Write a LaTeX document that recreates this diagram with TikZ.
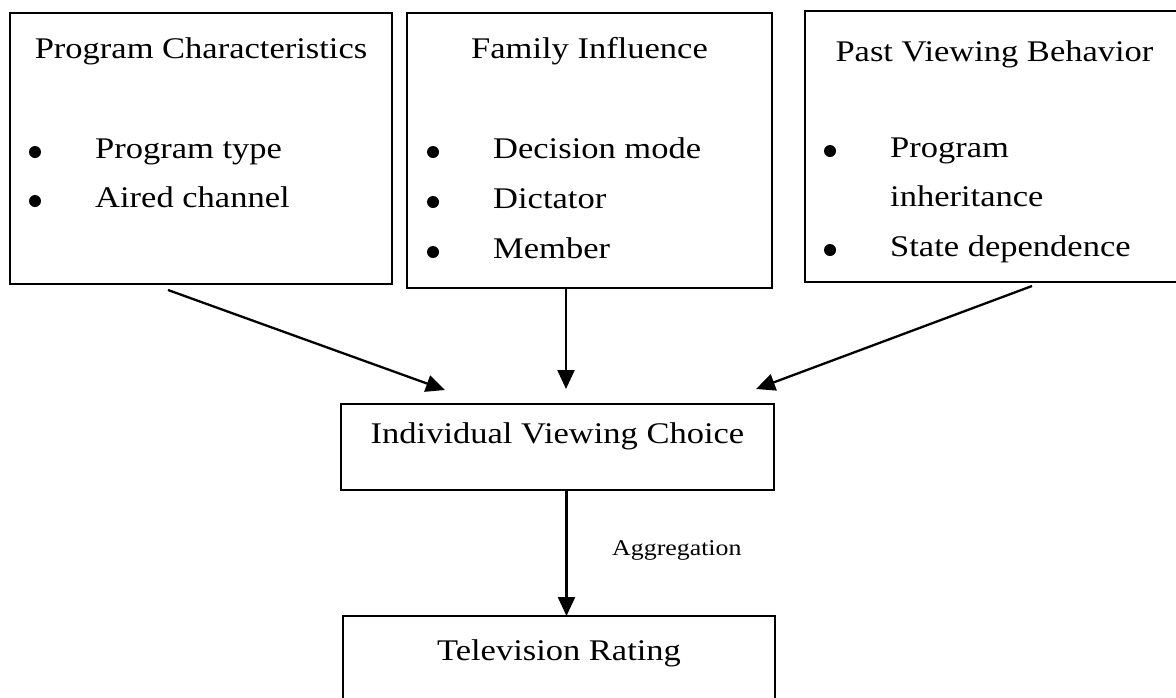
\documentclass[tikz,border=0pt]{standalone}
\usepackage{fontspec}
\setmainfont{Liberation Serif}[FakeStretch=1.15]
\usetikzlibrary{arrows.meta,calc}

\begin{document}
\begin{tikzpicture}[x=1pt,y=-1pt,
  box/.style={draw,line width=2pt,outer sep=0pt,inner sep=0pt},
  heading/.style={font=\fontsize{30}{36}\selectfont,anchor=base,inner sep=0pt},
  item/.style={font=\fontsize{30}{36}\selectfont,anchor=base west,inner sep=0pt},
  dot/.style={circle,fill,inner sep=0pt,minimum size=12pt},
  arr/.style={line width=2.3pt,-{Triangle[length=19pt,width=17pt]}},
  note/.style={font=\fontsize{22.5}{27}\selectfont,anchor=base west,inner sep=0pt}]
\useasboundingbox (0,0) rectangle (1176,697);
\clip (0,0) rectangle (1176,697);
\fill[white] (0,0) rectangle (1176,697);

% three factor boxes (the third runs past the right edge)
\node[box,minimum width=382pt,minimum height=271pt] (b1) at (201,148.5) {};
\node[box,minimum width=365pt,minimum height=275pt] (b2) at (589.5,150.5) {};
\node[box,minimum width=400pt,minimum height=271pt] (b3) at (1005,146.5) {};

% outcome boxes
\node[box,minimum width=433pt,minimum height=86pt] (ivc) at (557.5,447) {};
\node[box,minimum width=432pt,minimum height=104pt] (tv) at (559,668) {};

% box headings
\node[heading] (t1) at (201,58) {Program Characteristics};
\node[heading] (t2) at (589.5,58) {Family Influence};
\node[heading] (t3) at (994.5,61) {Past Viewing Behavior};
\node[heading] (t4) at (557.5,443) {Individual Viewing Choice};
\node[heading] (t5) at (559,660) {Television Rating};

% Program Characteristics items
\node[dot] (d11) at (35,152) {};
\node[dot] (d12) at (35,201) {};
\node[item] (i11) at (95,158) {Program type};
\node[item] (i12) at (95,207) {Aired channel};

% Family Influence items
\node[dot] (d21) at (433,152) {};
\node[dot] (d22) at (433,202) {};
\node[dot] (d23) at (433,252) {};
\node[item] (i21) at (493,158) {Decision mode};
\node[item] (i22) at (493,208) {Dictator};
\node[item] (i23) at (493,258) {Member};

% Past Viewing Behavior items
\node[dot] (d31) at (830,151) {};
\node[dot] (d32) at (830,250) {};
\node[item] (i31) at (890,157) {Program};
\node[item] (i32) at (890,206) {inheritance};
\node[item] (i33) at (890,256) {State dependence};

% connectors
\draw[arr] ([xshift=-33pt,yshift=-6pt]b1.south) -- ([xshift=-112.5pt,yshift=14pt]ivc.north);
\draw[arr] ([xshift=-23.5pt,yshift=-1pt]b2.south) -- ([xshift=8.5pt,yshift=15pt]ivc.north);
\draw[arr] ([xshift=27pt,yshift=-4pt]b3.south) -- ([xshift=198.5pt,yshift=15pt]ivc.north);
\draw[arr] ([xshift=9pt]ivc.south) -- ([xshift=7.5pt]tv.north);

\node[note] (agg) at (612,555) {Aggregation};
\end{tikzpicture}
\end{document}
